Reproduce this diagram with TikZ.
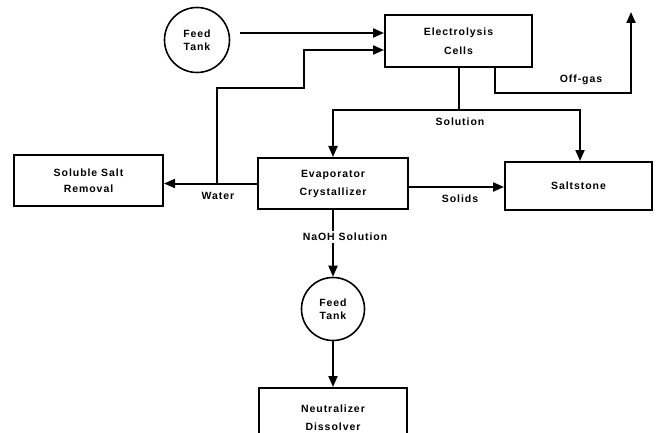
\documentclass[tikz,border=0pt]{standalone}
\usepackage{fontspec}
\setmainfont{Liberation Sans}
\newfontfamily\labfont[LetterSpace=9]{Liberation Sans Bold}
\usetikzlibrary{arrows.meta,calc}
\begin{document}
\begin{tikzpicture}[x=1pt,y=-1pt,
  lab/.style={font=\labfont\fontsize{10.5}{12}\selectfont, inner sep=1pt},
  box/.style={draw, line width=2pt, rectangle, align=center, lab},
  tank/.style={draw, line width=1.6pt, circle, inner sep=0pt, align=center, lab},
  plainline/.style={line width=2pt},
  arr/.style={line width=2pt, -{Triangle[length=11pt,width=9pt]}}]
\useasboundingbox (0,0) rectangle (661,433);
\node[tank, minimum size=65pt] (ft1) at (197,40) {Feed\\[1pt]Tank};
\node[box, minimum width=147pt, minimum height=52pt] (ec) at (458.5,41) {Electrolysis\\[7pt]Cells};
\node[box, minimum width=149pt, minimum height=51pt] (ssr) at (88.5,180.5) {Soluble Salt\\[4pt]Removal};
\node[box, minimum width=150pt, minimum height=51pt] (evap) at (333,183.5) {Evaporator\\[6pt]Crystallizer};
\node[box, minimum width=147pt, minimum height=48pt] (salt) at (578.5,186) {Saltstone};
\node[tank, minimum size=63pt] (ft2) at (333,309) {Feed\\[1pt]Tank};
\node[box, minimum width=148pt, minimum height=60pt, anchor=north] (neut) at (333,387) {Neutralizer\\[6pt]Dissolver};
% feed tank to cells
\draw[arr] ($(ft1.east)+(10,-7)$) -- (ec.west |- 0,33);
% water recycle
\coordinate (wj) at (217,183.5);
\coordinate (wk) at (304,50);
\draw[arr] (wj) -- (217,88) -| (wk) -- (ec.west |- wk);
\draw[arr] (evap.west) -- (ssr.east |- evap.west);
\node[lab] (water) at (218,196) {Water};
% solution
\draw[plainline] (ec.south) -- (ec.south |- 0,110) coordinate (sj);
\draw[arr] (sj) -| (evap.north);
\draw[arr] (sj) -| ([xshift=1.5pt]salt.north);
\node[lab] (sol) at (460,122) {Solution};
% off-gas
\coordinate (og) at (631,12);
\draw[arr] ($(ec.south)+(36.5,0)$) |- (og |- 0,93) -- (og);
\node[lab] (offgas) at (581,80) {Off-gas};
% solids
\draw[arr] (evap.east |- 0,187) -- (salt.west |- 0,187);
\node[lab] (solids) at (460,199) {Solids};
% NaOH
\draw[arr] (evap.south) -- (ft2.north);
\node[lab, fill=white, inner sep=2pt] (naoh) at (345,237) {NaOH Solution};
\draw[arr] (ft2.south) -- (neut.north);
\end{tikzpicture}
\end{document}
